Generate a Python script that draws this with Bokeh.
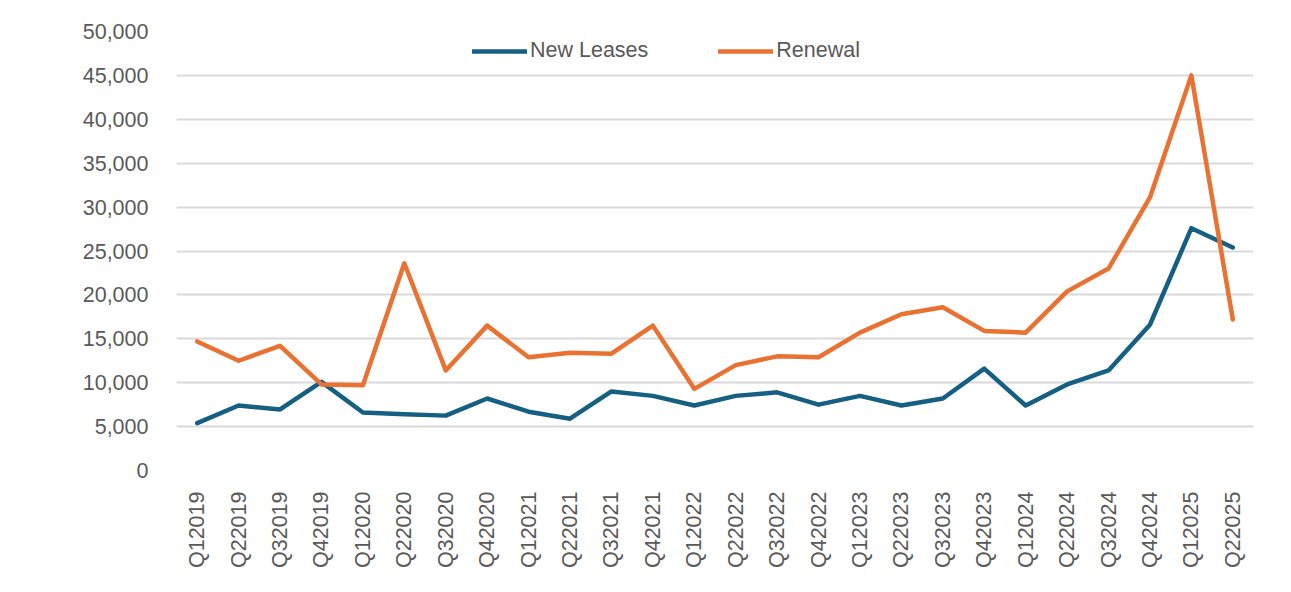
from bokeh.plotting import figure
from bokeh.models import ColumnDataSource, Legend, LegendItem, NumeralTickFormatter, FixedTicker, BoxAnnotation
from bokeh.embed import file_html
from bokeh.resources import INLINE
import math

quarters = ["Q12019", "Q22019", "Q32019", "Q42019", "Q12020", "Q22020", "Q32020", "Q42020",
            "Q12021", "Q22021", "Q32021", "Q42021", "Q12022", "Q22022", "Q32022", "Q42022",
            "Q12023", "Q22023", "Q32023", "Q42023", "Q12024", "Q22024", "Q32024", "Q42024",
            "Q12025", "Q22025"]
new_leases = [5400, 7400, 6950, 10100, 6600, 6400, 6250, 8200,
              6700, 5900, 9000, 8500, 7400, 8500, 8900, 7500,
              8500, 7400, 8200, 11600, 7400, 9800, 11400, 16600,
              27600, 25400]
renewal = [14700, 12500, 14200, 9800, 9700, 23600, 11400, 16500,
           12900, 13400, 13300, 16500, 9300, 12000, 13000, 12900,
           15700, 17800, 18600, 15900, 15700, 20400, 23000, 31100,
           45000, 17200]
y_ticks = [0, 5000, 10000, 15000, 20000, 25000, 30000, 35000, 40000, 45000, 50000]

BLUE = "#156082"
ORANGE = "#E97132"
TEXT = "#595959"
GRID = "#D9D9D9"
FONT = "Liberation Sans"

src = ColumnDataSource(dict(q=quarters, n=new_leases, r=renewal))

p = figure(x_range=quarters, y_range=(0, 50000), output_backend="svg", toolbar_location=None,
           frame_width=1077, frame_height=439,
           min_border_left=176, min_border_right=38, min_border_top=31, min_border_bottom=122)
p.outline_line_color = None
p.background_fill_color = "white"
p.border_fill_color = "white"

r1 = p.line("q", "n", source=src, line_color=BLUE, line_width=4.5, line_cap="round", line_join="round")
r2 = p.line("q", "r", source=src, line_color=ORANGE, line_width=4.5, line_cap="round", line_join="round")

p.xgrid.grid_line_color = None
p.ygrid.grid_line_color = GRID
p.ygrid.grid_line_width = 2
p.yaxis.ticker = FixedTicker(ticks=y_ticks)
p.yaxis.formatter = NumeralTickFormatter(format="0,0")

for ax in (p.xaxis, p.yaxis):
    ax.axis_line_color = None
    ax.major_tick_line_color = None
    ax.minor_tick_line_color = None
    ax.major_label_text_color = TEXT
    ax.major_label_text_font = FONT
    ax.major_label_text_font_size = "21.5px"
p.yaxis.major_label_standoff = 22
p.xaxis.major_label_standoff = 15
p.xaxis.major_label_orientation = math.pi / 2

legend = Legend(items=[LegendItem(label="New Leases", renderers=[r1]),
                       LegendItem(label="Renewal", renderers=[r2])],
                orientation="horizontal", location=(296, 407),
                padding=0, margin=0, spacing=70, glyph_width=55, glyph_height=22,
                label_height=22, label_standoff=3,
                label_text_font=FONT, label_text_font_size="21.5px", label_text_color=TEXT,
                background_fill_alpha=0, border_line_color=None)
p.add_layout(legend, "center")

# chart-area border lines (left and right edges of the outer chart box)
for lx in (22, 1289):
    p.add_layout(BoxAnnotation(left=lx, right=lx + 2, top=0, bottom=592,
                               left_units="canvas", right_units="canvas",
                               top_units="canvas", bottom_units="canvas",
                               fill_color="#E0E0E0", fill_alpha=1, line_color=None))

open("out.html", "w").write(file_html(p, INLINE))
